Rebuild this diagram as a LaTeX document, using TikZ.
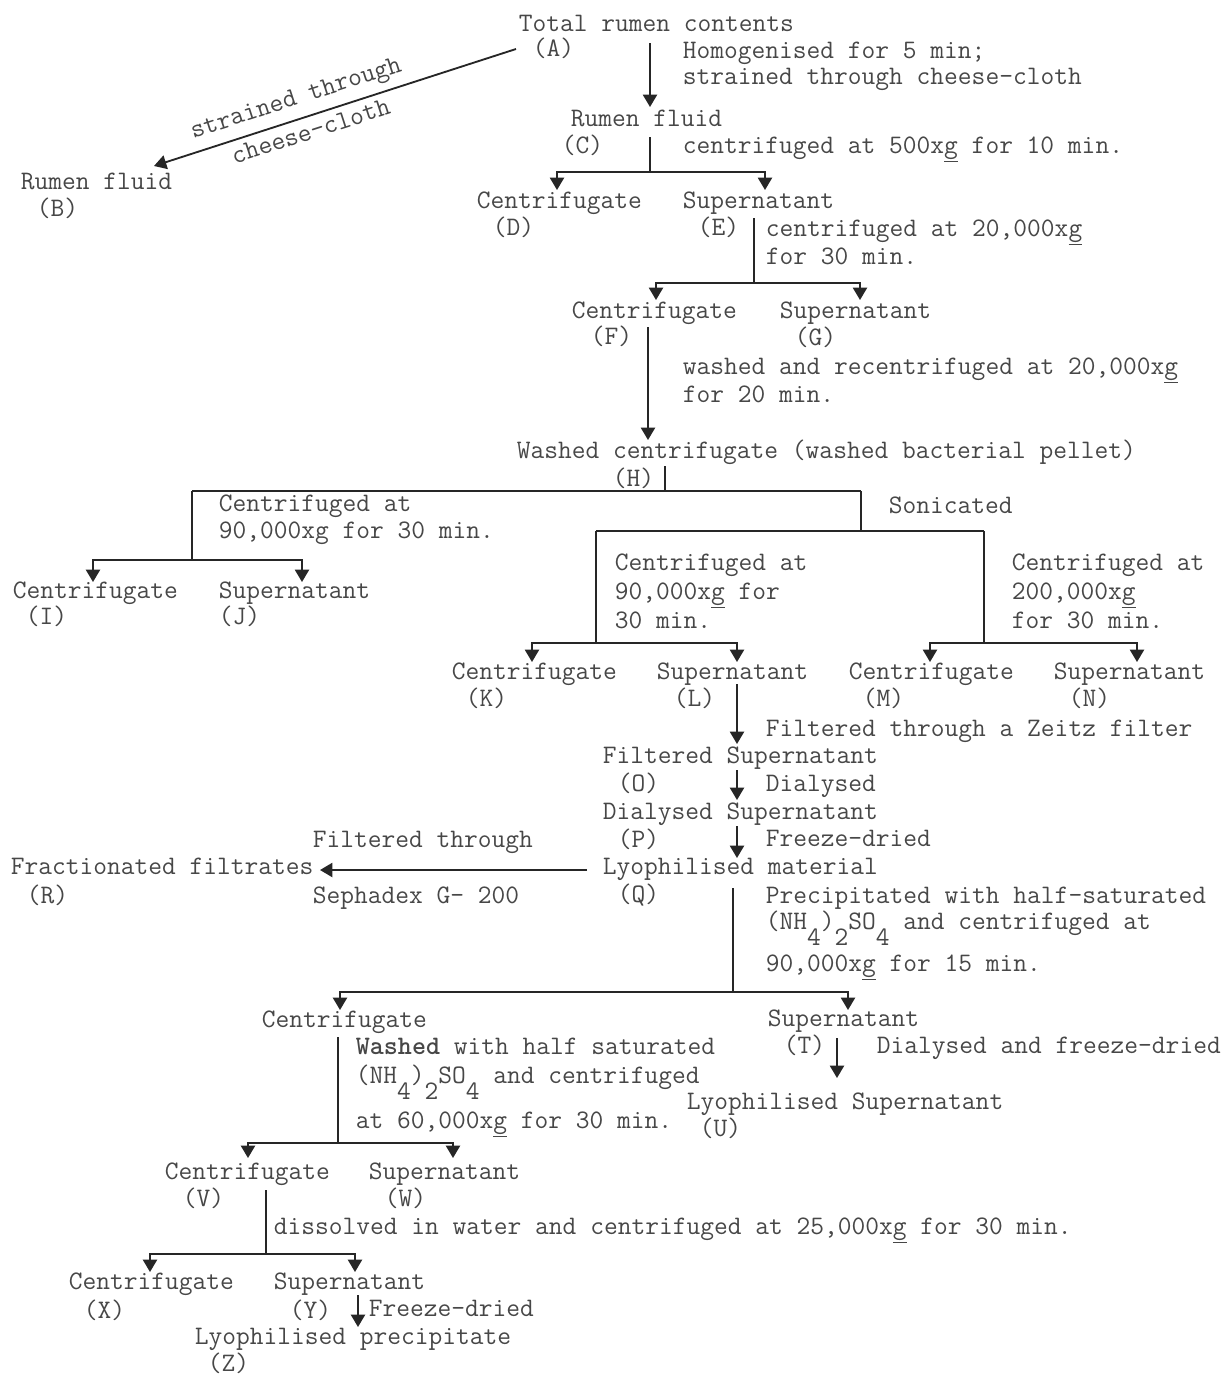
\documentclass[tikz,border=0pt]{standalone}
\usepackage{fontspec}
\usetikzlibrary{arrows.meta}
\newcommand\dn[1]{\raisebox{-0.6em}{#1}}
\newcommand\xgu{x\underline{g}}
\tikzset{
	every node/.style = {font=\fontsize{15.2}{17}\selectfont\ttfamily},
	txt/.style = {anchor=base west, inner sep=0pt, text=black!72},
	arr/.style = {-{Triangle[length=7pt,width=8pt]}}
}

\begin{document}
\begin{tikzpicture}[x=0.02cm, y=-0.02cm, line width=1.05pt, color=black!85]
	\useasboundingbox (0,0) rectangle (1222,1377);

	% total contents
	\node[txt] (A1) at (518,31) {Total rumen contents};
	\node[txt] (A2) at (532,56) {(A)};
	\node[txt] (hom1) at (682,58) {Homogenised for 5 min;};
	\node[txt] (hom2) at (682,84) {strained through cheese-cloth};
	\node[txt] (B1) at (20,189) {Rumen fluid};
	\node[txt] (B2) at (36,216) {(B)};
	\node[txt] (C1) at (570,126) {Rumen fluid};
	\node[txt] (C2) at (561,153) {(C)};
	\node[txt] (cen500) at (682,153) {centrifuged at 500\xgu{} for 10 min.};

	\coordinate (A-l) at (516,49);
	\coordinate (B-in) at (154,166);
	\draw[{Triangle[length=7pt,width=8pt]}-] (B-in) -- (A-l)
		node[pos=.41, sloped, above=2pt, inner sep=2pt, text=black!72] (strA) {strained through}
		node[pos=.42, sloped, below=1.3pt, inner sep=2pt, text=black!72] (strB) {cheese-cloth};
	\coordinate (A-out) at (650,43);
	\coordinate (C-in) at (650,107);
	\draw[arr] (A-out) -- (C-in);

	% depth C
	\node[txt] (D1) at (476,208) {Centrifugate};
	\node[txt] (D2) at (492,235) {(D)};
	\node[txt] (E1) at (682,208) {Supernatant};
	\node[txt] (E2) at (697,235) {(E)};
	\node[txt] (cen20a) at (765,236) {centrifuged at 20,000\xgu};
	\node[txt] (cen20b) at (765,264) {for 30 min.};
	\coordinate (C-out) at (650,137);
	\coordinate (C-fork) at (650,172);
	\coordinate (D-in) at (557,190);
	\coordinate (E-in) at (765,190);
	\draw (C-out) -- (C-fork);
	\draw[arr] (C-fork) -| (D-in);
	\draw[arr] (C-fork) -| (E-in);

	% depth E
	\node[txt] (F1) at (571,318) {Centrifugate};
	\node[txt] (F2) at (590,344) {(F)};
	\node[txt] (G1) at (779,318) {Supernatant};
	\node[txt] (G2) at (794,345) {(G)};
	\node[txt] (wash1) at (682,374) {washed and recentrifuged at 20,000\xgu};
	\node[txt] (wash2) at (682,402) {for 20 min.};
	\coordinate (E-out) at (754,218);
	\coordinate (E-fork) at (754,283);
	\coordinate (F-in) at (656,300);
	\coordinate (G-in) at (860,300);
	\draw (E-out) -- (E-fork);
	\draw[arr] (E-fork) -| (F-in);
	\draw[arr] (E-fork) -| (G-in);
	\coordinate (F-out) at (648,327);
	\coordinate (H-in) at (648,440);
	\draw[arr] (F-out) -- (H-in);

	% washed pellet
	\node[txt] (H1) at (516,458) {Washed centrifugate (washed bacterial pellet)};
	\node[txt] (H2) at (612,486) {(H)};
	\node[txt] (son) at (888,513) {Sonicated};
	\node[txt] (c90a) at (218,511) {Centrifuged at};
	\node[txt] (c90b) at (218,538) {90,000xg for 30 min.};
	\coordinate (H-out) at (665,466);
	\coordinate (H-fork) at (665,491);
	\coordinate (H-l) at (192,491);
	\coordinate (H-r) at (861,491);
	\draw (H-out) -- (H-fork);
	\draw (H-l) -- (H-r);

	% unsonicated
	\node[txt] (I1) at (12,598) {Centrifugate};
	\node[txt] (I2) at (25,624) {(I)};
	\node[txt] (J1) at (218,598) {Supernatant};
	\node[txt] (J2) at (218,624) {(J)};
	\coordinate (IJ-fork) at (192,560);
	\coordinate (I-in) at (93,582);
	\coordinate (J-in) at (302,582);
	\draw (H-l) -- (IJ-fork);
	\draw[arr] (IJ-fork) -| (I-in);
	\draw[arr] (IJ-fork) -| (J-in);

	% sonicated
	\node[txt] (kla) at (614,570) {Centrifuged at};
	\node[txt] (klb) at (614,599) {90,000\xgu{} for};
	\node[txt] (klc) at (614,628) {30 min.};
	\node[txt] (mna) at (1011,570) {Centrifuged at};
	\node[txt] (mnb) at (1011,599) {200,000\xgu};
	\node[txt] (mnc) at (1011,628) {for 30 min.};
	\node[txt] (K1) at (451,679) {Centrifugate};
	\node[txt] (K2) at (465,706) {(K)};
	\node[txt] (L1) at (656,679) {Supernatant};
	\node[txt] (L2) at (673,706) {(L)};
	\node[txt] (M1) at (848,679) {Centrifugate};
	\node[txt] (M2) at (862,706) {(M)};
	\node[txt] (N1) at (1053,679) {Supernatant};
	\node[txt] (N2) at (1068,706) {(N)};
	\coordinate (S-fork) at (861,531);
	\coordinate (S-l) at (596,531);
	\coordinate (S-r) at (984,531);
	\coordinate (KL-fork) at (596,643);
	\coordinate (MN-fork) at (984,643);
	\coordinate (K-in) at (532,662);
	\coordinate (L-in) at (737,662);
	\coordinate (M-in) at (930,662);
	\coordinate (N-in) at (1137,662);
	\draw (H-r) -- (S-fork);
	\draw (S-l) -- (S-r);
	\draw (S-l) -- (KL-fork);
	\draw (S-r) -- (MN-fork);
	\draw[arr] (KL-fork) -| (K-in);
	\draw[arr] (KL-fork) -| (L-in);
	\draw[arr] (MN-fork) -| (M-in);
	\draw[arr] (MN-fork) -| (N-in);

	% supernatant L
	\node[txt] (zeitz) at (765,736) {Filtered through a Zeitz filter};
	\node[txt] (O1) at (602,763) {Filtered Supernatant};
	\node[txt] (O2) at (617,791) {(O)};
	\node[txt] (dial) at (765,791) {Dialysed};
	\node[txt] (P1) at (602,819) {Dialysed Supernatant};
	\node[txt] (P2) at (617,847) {(P)};
	\node[txt] (frz) at (765,846) {Freeze-dried};
	\node[txt] (Q1) at (602,874) {Lyophilised material};
	\node[txt] (Q2) at (617,902) {(Q)};
	\coordinate (L-out) at (737,684);
	\coordinate (O-in) at (737,744);
	\coordinate (O-out) at (737,770);
	\coordinate (P-in) at (737,800);
	\coordinate (P-out) at (737,826);
	\coordinate (Q-in) at (737,858);
	\draw[arr] (L-out) -- (O-in);
	\draw[arr] (O-out) -- (P-in);
	\draw[arr] (P-out) -- (Q-in);

	% sephadex
	\node[txt] (filt) at (312,847) {Filtered through};
	\node[txt] (R1) at (10,874) {Fractionated filtrates};
	\node[txt] (R2) at (26,903) {(R)};
	\node[txt] (seph) at (312,903) {Sephadex G- 200};
	\coordinate (Q-l) at (587,870);
	\coordinate (R-in) at (320,870);
	\draw[arr] (Q-l) -- (R-in);

	% precipitation
	\node[txt] (prec1) at (765,903) {Precipitated with half-saturated};
	\node[txt] (prec2) at (765,929) {(NH\dn{4})\dn{2}SO\dn{4} and centrifuged at};
	\node[txt] (prec3) at (765,971) {90,000\xgu{} for 15 min.};
	\node[txt] (S1) at (261,1027) {Centrifugate};
	\node[txt] (T1) at (767,1026) {Supernatant};
	\node[txt] (T2) at (783,1053) {(T)};
	\node[txt] (dfd) at (876,1053) {Dialysed and freeze-dried};
	\node[txt] (U1) at (686,1109) {Lyophilised Supernatant};
	\node[txt] (U2) at (699,1136) {(U)};
	\coordinate (Q-out) at (733,888);
	\coordinate (Q-fork) at (733,992);
	\coordinate (S-in) at (340,1010);
	\coordinate (T-in) at (848,1010);
	\draw (Q-out) -- (Q-fork);
	\draw[arr] (Q-fork) -| (S-in);
	\draw[arr] (Q-fork) -| (T-in);
	\coordinate (T-out) at (837,1038);
	\coordinate (U-in) at (837,1078);
	\draw[arr] (T-out) -- (U-in);

	% centrifugate S
	\node[txt] (wsh1) at (355,1054) {\textbf{Washed} with half saturated};
	\node[txt] (wsh2) at (355,1083) {(NH\dn{4})\dn{2}SO\dn{4} and centrifuged};
	\node[txt] (wsh3) at (355,1128) {at 60,000\xgu{} for 30 min.};
	\node[txt] (V1) at (164,1179) {Centrifugate};
	\node[txt] (V2) at (182,1206) {(V)};
	\node[txt] (W1) at (368,1179) {Supernatant};
	\node[txt] (W2) at (384,1206) {(W)};
	\coordinate (S-out) at (338,1037);
	\coordinate (VW-fork) at (338,1143);
	\coordinate (V-in) at (248,1158);
	\coordinate (W-in) at (453,1158);
	\draw (S-out) -- (VW-fork);
	\draw[arr] (VW-fork) -| (V-in);
	\draw[arr] (VW-fork) -| (W-in);

	% centrifugate V
	\node[txt] (diss) at (273,1234) {dissolved in water and centrifuged at 25,000\xgu{} for 30 min.};
	\node[txt] (X1) at (68,1289) {Centrifugate};
	\node[txt] (X2) at (83,1318) {(X)};
	\node[txt] (Y1) at (273,1289) {Supernatant};
	\node[txt] (Y2) at (289,1318) {(Y)};
	\node[txt] (fd2) at (368,1316) {Freeze-dried};
	\node[txt] (Z1) at (194,1344) {Lyophilised precipitate};
	\node[txt] (Z2) at (207,1371) {(Z)};
	\coordinate (V-out) at (266,1190);
	\coordinate (XY-fork) at (266,1254);
	\coordinate (X-in) at (150,1272);
	\coordinate (Y-in) at (355,1272);
	\draw (V-out) -- (XY-fork);
	\draw[arr] (XY-fork) -| (X-in);
	\draw[arr] (XY-fork) -| (Y-in);
	\coordinate (Y-out) at (358,1295);
	\coordinate (Z-in) at (358,1327);
	\draw[arr] (Y-out) -- (Z-in);
\end{tikzpicture}
\end{document}
